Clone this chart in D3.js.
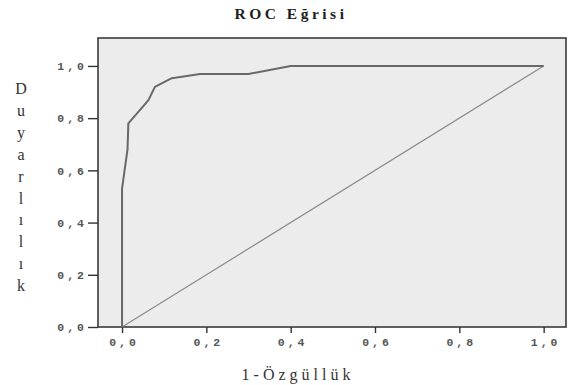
<!DOCTYPE html>
<html>
<head>
<meta charset="utf-8">
<script src="https://cdn.jsdelivr.net/npm/d3@7/dist/d3.min.js"></script>
<style>
  body { margin: 0; background: #fff; }
  svg { display: block; }
</style>
</head>
<body>
<svg id="chart"></svg>
<script>
// ROC curve points (1-specificity, sensitivity)
const fpr = [0, 0, 0.013, 0.015, 0.05, 0.063, 0.078, 0.118, 0.185, 0.30, 0.40, 1.0];
const tpr = [0, 0.53, 0.68, 0.78, 0.845, 0.87, 0.92, 0.953, 0.969, 0.969, 1.0, 1.0];
const refLine = [0, 1];
const tickValues = [0, 0.2, 0.4, 0.6, 0.8, 1.0];
const yTitleLetters = ['D', 'u', 'y', 'a', 'r', 'l', 'ı', 'l', 'ı', 'k'];

const W = 580, H = 385;
const svg = d3.select('#chart').attr('width', W).attr('height', H);

const x = d3.scaleLinear().domain([-0.057, 1.053]).range([98, 566]);
const y = d3.scaleLinear().domain([0, 1.107]).range([327, 38]);

const fmt = d => d3.format('.1f')(d).replace('.', ',');

// plot background + frame
svg.append('rect')
  .attr('x', x.range()[0]).attr('y', y.range()[1])
  .attr('width', x.range()[1] - x.range()[0])
  .attr('height', y.range()[0] - y.range()[1])
  .attr('fill', '#ececec')
  .attr('stroke', '#3a3a3a')
  .attr('stroke-width', 1.6);

// axes
const yAxis = svg.append('g')
  .attr('transform', `translate(${x.range()[0]},0)`)
  .call(d3.axisLeft(y).tickValues(tickValues).tickSize(10).tickPadding(1).tickFormat(fmt));
const xAxis = svg.append('g')
  .attr('transform', `translate(0,${y.range()[0]})`)
  .call(d3.axisBottom(x).tickValues(tickValues).tickSize(6).tickPadding(5).tickFormat(fmt));

[yAxis, xAxis].forEach(g => {
  g.select('.domain').remove();
  g.selectAll('.tick line').attr('stroke', '#333').attr('stroke-width', 1.4);
  g.selectAll('.tick text')
    .attr('fill', '#555')
    .style('font-family', '"Liberation Mono", "DejaVu Sans Mono", monospace')
    .style('font-size', '11.5px')
    .style('font-weight', 'bold')
    .style('letter-spacing', '3px');
});
xAxis.selectAll('.tick text').attr('dx', '1.5px');

// diagonal reference
svg.append('line')
  .attr('x1', x(refLine[0])).attr('y1', y(refLine[0]))
  .attr('x2', x(refLine[1])).attr('y2', y(refLine[1]))
  .attr('stroke', '#8c8c8c')
  .attr('stroke-width', 1.2);

// ROC curve
const pts = fpr.map((f, i) => [f, tpr[i]]);
svg.append('path')
  .datum(pts)
  .attr('fill', 'none')
  .attr('stroke', '#686868')
  .attr('stroke-width', 2)
  .attr('stroke-linejoin', 'round')
  .attr('d', d3.line().x(d => x(d[0])).y(d => y(d[1])));

// title
svg.append('text')
  .attr('x', 291).attr('y', 19)
  .attr('text-anchor', 'middle')
  .style('font-family', '"Liberation Serif", "DejaVu Serif", serif')
  .style('font-size', '15.5px')
  .style('font-weight', 'bold')
  .style('letter-spacing', '3.5px')
  .attr('fill', '#1e1e1e')
  .text('ROC Eğrisi');

// x title
svg.append('text')
  .attr('x', 298).attr('y', 380)
  .attr('text-anchor', 'middle')
  .style('font-family', '"Liberation Serif", "DejaVu Serif", serif')
  .style('font-size', '16px')
  .style('letter-spacing', '4px')
  .attr('fill', '#333')
  .text('1-Özgüllük');

// y title, stacked letters
svg.append('g').selectAll('text')
  .data(yTitleLetters)
  .join('text')
  .attr('x', 21)
  .attr('y', (d, i) => 94 + i * 21.9)
  .attr('text-anchor', 'middle')
  .style('font-family', '"Liberation Serif", "DejaVu Serif", serif')
  .style('font-size', '16px')
  .attr('fill', '#333')
  .text(d => d);
</script>
</body>
</html>
